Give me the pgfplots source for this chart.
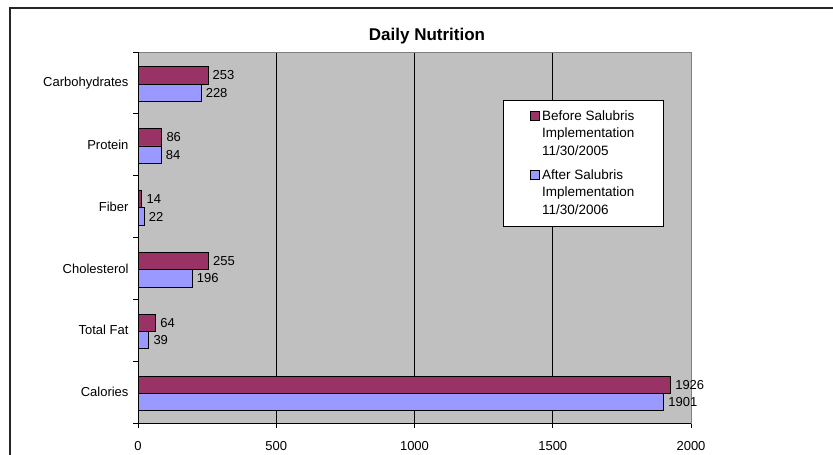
\documentclass[border=0pt]{standalone}
\usepackage{pgfplots}
\pgfplotsset{compat=1.18}
\usepackage{fontspec}
\setmainfont{Liberation Sans}
\definecolor{before}{HTML}{993366}
\definecolor{after}{HTML}{9999FF}
\definecolor{plotbg}{HTML}{C0C0C0}
\begin{document}
\begin{tikzpicture}[x=1pt,y=1pt]
\path[use as bounding box] (0,0) rectangle (833,455);
\draw[line width=1.6pt, black!85] (10,0) -- (10,447) -- (833,447);
\node[font=\fontsize{17}{20}\selectfont\bfseries, anchor=base] at (427,414) {Daily Nutrition};
\begin{axis}[
  at={(138pt,32pt)}, anchor=south west,
  width=553pt, height=371pt, scale only axis,
  xbar, bar width=0.28,
  xmin=0, xmax=2000, ymin=-0.5, ymax=5.5,
  xtick={0,500,1000,1500,2000},
  ytick={-0.5,0.5,1.5,2.5,3.5,4.5,5.5}, yticklabels={},
  extra y ticks={0,1,2,3,4,5},
  extra y tick labels={Calories,Total Fat,Cholesterol,Fiber,Protein,Carbohydrates},
  extra y tick style={major tick length=0pt},
  xtick pos=bottom, ytick pos=left,
  tick align=outside, major tick length=5pt,
  tick style={black, line width=0.8pt},
  xmajorgrids, grid style={black, line width=0.8pt},
  axis background/.style={fill=plotbg},
  axis line style={draw=gray, line width=0.8pt},
  /pgf/number format/assume math mode=true,
  /pgf/number format/1000 sep={},
  ticklabel style={font=\fontsize{13}{15}\selectfont},
  xticklabel style={yshift=-10pt},
  yticklabel style={xshift=-6pt},
  nodes near coords,
  every node near coord/.append style={font=\fontsize{13}{15}\selectfont, black, anchor=west, xshift=1pt},
  legend style={at={(0.660,0.8706)}, anchor=north west, draw=black, line width=0.8pt, fill=white,
    font=\fontsize{13.5}{17.5}\selectfont, cells={anchor=west, align=left},
    row sep=9pt, inner xsep=27pt, inner ysep=8pt},
  legend image code/.code={\path[draw=none, fill=none] (0pt,-22pt) rectangle (9pt,22pt);
    \draw[#1, draw=black, line width=0.8pt] (0pt,13pt) rectangle (9pt,22pt);},
  after end axis/.code={\draw[black, line width=0.8pt] (rel axis cs:0,1) -- (rel axis cs:0,0) -- (rel axis cs:1,0);},
]
\addplot[fill=before, draw=black, line width=0.8pt, bar shift=0.12]
  coordinates {(1926,0) (64,1) (255,2) (14,3) (86,4) (253,5)};
\addlegendentry{Before Salubris\\Implementation\\11/30/2005}
\addplot[fill=after, draw=black, line width=0.8pt, bar shift=-0.16]
  coordinates {(1901,0) (39,1) (196,2) (22,3) (84,4) (228,5)};
\addlegendentry{After Salubris\\Implementation\\11/30/2006}
\end{axis}
\end{tikzpicture}
\end{document}
